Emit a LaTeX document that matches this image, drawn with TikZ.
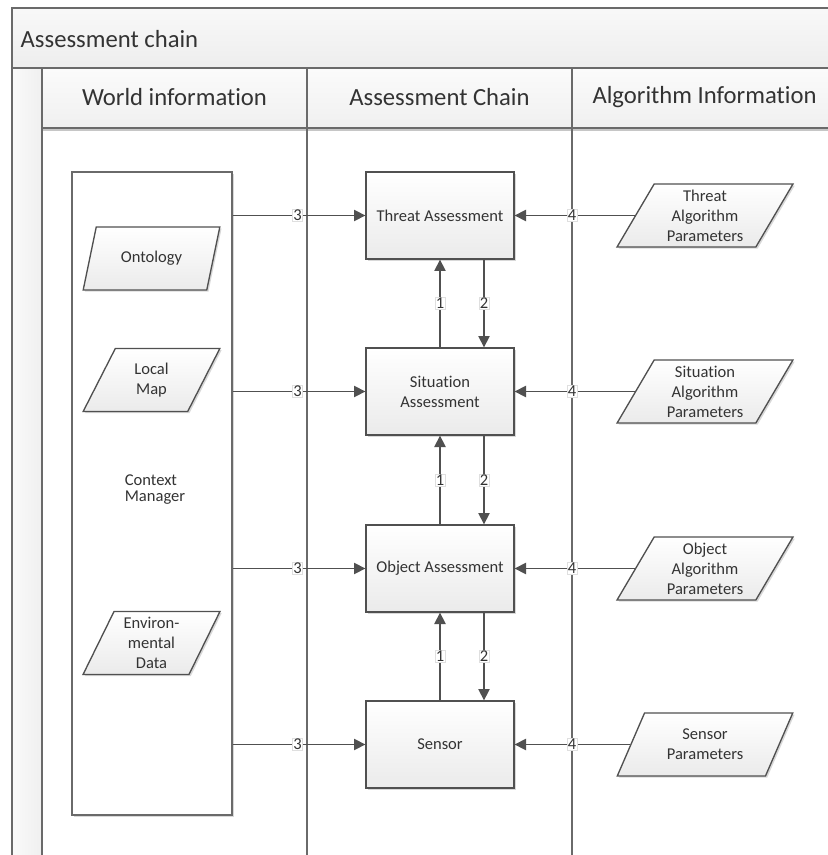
\documentclass[tikz,border=0pt]{standalone}
\usepackage{fontspec}
\setmainfont{Carlito}[Ligatures=NoCommon]
\usetikzlibrary{shapes.geometric,shadows,arrows.meta,calc}
\definecolor{linec}{HTML}{505050}
\definecolor{framec}{HTML}{6A6A6A}
\definecolor{txtc}{HTML}{333333}
\begin{document}
\begin{tikzpicture}[x=0.75pt,y=-0.75pt,
  boxtext/.style={font=\fontsize{12.4}{15}\selectfont, text=txtc, align=center, inner sep=1pt},
  shad/.style={drop shadow={shadow xshift=1.3pt, shadow yshift=-1.3pt, opacity=0.3, fill=gray}},
  procbox/.style={boxtext, shad, draw=linec, line width=1pt, top color=white, bottom color=gray!16,
    minimum width=111pt, minimum height=65.25pt},
  databox/.style={boxtext, shad, trapezium, trapezium stretches=true, draw=linec, line width=1pt,
    top color=white, bottom color=gray!16, minimum height=47.25pt},
  leftdata/.style={databox, trapezium left angle=66, trapezium right angle=114, minimum width=102.75pt},
  rightdata/.style={databox, trapezium left angle=62, trapezium right angle=118, minimum width=132pt},
  conn/.style={draw=linec, line width=1.1pt, -{Triangle[length=8.5pt,width=8.5pt]}},
  lbl/.style={font=\fontsize{12.4}{14}\selectfont, text=txtc, fill=white, draw=gray!25, line width=0.4pt,
    inner sep=0.6pt},
  lane/.style={draw=framec, line width=1.1pt},
  headtext/.style={font=\fontsize{18.5}{22}\selectfont, text=txtc}
]
\useasboundingbox (0,0) rectangle (827,855);
\fill[white] (0,0) rectangle (827,855);

% title band
\shade[top color=gray!5, bottom color=gray!14] (12,8) rectangle (840,68);
% header row
\shade[top color=gray!3, bottom color=gray!12] (42,68) rectangle (840,128);
% left strip
\shade[left color=gray!4, right color=gray!12] (12,68) rectangle (42,860);
% shadow under header
\draw[gray!45, line width=2pt] (42,129.5) -- (840,129.5);

% frame and lanes
\draw[lane] (12,860) -- (12,8) -- (840,8);
\draw[lane] (12,68) -- (840,68);
\draw[lane] (42,128) -- (840,128);
\draw[lane] (42,68) -- (42,860);
\draw[lane] (307,68) -- (307,860);
\draw[lane] (572,68) -- (572,860);

\node[headtext, anchor=west] (title) at (16,39) {Assessment chain};
\node[headtext] (h1) at (174.5,97) {World information};
\node[headtext] (h2) at (439.5,97) {Assessment Chain};
\node[headtext] (h3) at (704.5,97) {Algorithm Information};

% context manager
\node[draw=framec, line width=1pt, fill=white, minimum width=120pt, minimum height=482.25pt,
  drop shadow={shadow xshift=1.2pt, shadow yshift=-1.2pt, opacity=0.3, fill=gray}] (cm) at (152,493.5) {};
\node[boxtext, align=left, font=\fontsize{12.4}{12}\selectfont] (cmt) at (155,490) {Context\\Manager};

\node[leftdata] (onto) at (151.5,258.5) {Ontology};
\node[leftdata] (lmap) at (151.5,380) {Local\\Map};
\node[leftdata] (env) at (151.5,643) {Environ-\\mental\\Data};

% assessment chain
\node[procbox] (ta) at (440,215.5) {Threat Assessment};
\node[procbox] (sa) at (440,391.5) {Situation\\Assessment};
\node[procbox] (oa) at (440,568.5) {Object Assessment};
\node[procbox] (se) at (440,744.5) {Sensor};

% algorithm parameters
\node[rightdata] (tp) at (705,215.5) {Threat\\Algorithm\\Parameters};
\node[rightdata] (sp) at (705,391.5) {Situation\\Algorithm\\Parameters};
\node[rightdata] (op) at (705,568.5) {Object\\Algorithm\\Parameters};
\node[rightdata] (pp) at (705,744.5) {Sensor\\Parameters};

% connectors 3
\foreach \b in {ta,sa,oa,se}{
  \draw[conn] (cm.east |- \b.west) -- (\b.west);
  \node[lbl] at ($(cm.east |- \b.west)+(65,0)$) {3};
}
% connectors 4
\foreach \p/\b in {tp/ta,sp/sa,op/oa,pp/se}{
  \draw[conn] (\p.left side) -- (\b.east);
  \node[lbl] at (572,0 |- \b.east) {4};
}
% vertical 1 / 2
\foreach \u/\l in {ta/sa,sa/oa,oa/se}{
  \draw[conn] (\l.north) -- node[lbl] {1} (\u.south);
  \draw[conn] ($(\u.south)+(44,0)$) -- node[lbl] {2} ($(\l.north)+(44,0)$);
}
\end{tikzpicture}
\end{document}
